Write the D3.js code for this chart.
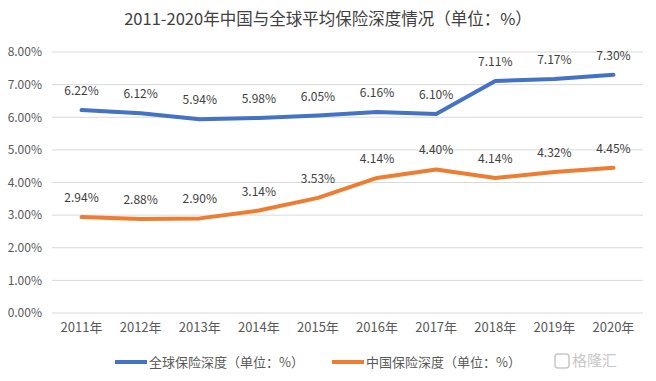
<!DOCTYPE html>
<html>
<head>
<meta charset="utf-8">
<script src="https://cdn.jsdelivr.net/npm/d3@7"></script>
<style>
  body { margin: 0; background: #fff; }
  text { font-family: "Noto Sans CJK SC", "Liberation Sans", sans-serif; }
</style>
</head>
<body>
<div id="chart"></div>
<script>
var years = ["2011年","2012年","2013年","2014年","2015年","2016年","2017年","2018年","2019年","2020年"];
var global_depth = [6.22, 6.12, 5.94, 5.98, 6.05, 6.16, 6.10, 7.11, 7.17, 7.30];
var china_depth = [2.94, 2.88, 2.90, 3.14, 3.53, 4.14, 4.40, 4.14, 4.32, 4.45];
var y_ticks = [0, 1, 2, 3, 4, 5, 6, 7, 8];
var series_names = ["全球保险深度（单位：%）", "中国保险深度（单位：%）"];

var svg_width = 656;
var svg_height = 381;
var margin = { top: 52, bottom: 68, left: 52, right: 13 };
var width = svg_width - margin.left - margin.right;
var height = svg_height - margin.top - margin.bottom;

var svg = d3.select("#chart")
    .append("svg")
    .attr("width", svg_width)
    .attr("height", svg_height);

svg.append("text")
    .attr("x", svg_width / 2)
    .attr("y", 25)
    .attr("text-anchor", "middle")
    .attr("font-size", 16.5)
    .attr("fill", "#404040")
    .text("2011-2020年中国与全球平均保险深度情况（单位：%）");

var chartGroup = svg.append("g")
    .attr("transform", `translate(${margin.left}, ${margin.top})`);

var x_scale = d3.scaleBand().domain(years).range([0, width]);
var y_scale = d3.scaleLinear().domain([0, 8]).range([height, 0]);

// gridlines
chartGroup.append("g")
    .selectAll("line")
    .data(y_ticks)
    .enter()
    .append("line")
    .attr("x1", 0)
    .attr("x2", width)
    .attr("y1", d => y_scale(d))
    .attr("y2", d => y_scale(d))
    .attr("stroke", "#d9d9d9")
    .attr("stroke-width", 1);

var left_axis = d3.axisLeft(y_scale)
    .tickValues(y_ticks)
    .tickFormat(d => d.toFixed(2) + "%")
    .tickSize(0)
    .tickPadding(10);
var yg = chartGroup.append("g").call(left_axis);
yg.select(".domain").remove();
yg.selectAll("text").attr("font-size", 12).attr("fill", "#595959");

var bottom_axis = d3.axisBottom(x_scale).tickSize(0).tickPadding(10);
var xg = chartGroup.append("g")
    .attr("transform", `translate(0,${height})`)
    .call(bottom_axis);
xg.select(".domain").remove();
xg.selectAll("text").attr("font-size", 13).attr("fill", "#595959");

var cx = d => x_scale(d) + x_scale.bandwidth() / 2;
var series = [
    { name: series_names[0], values: global_depth, color: "#4472C4" },
    { name: series_names[1], values: china_depth, color: "#ED7D31" }
];

var line = d3.line()
    .x((d, i) => cx(years[i]))
    .y(d => y_scale(d));

series.forEach(function (s) {
    chartGroup.append("path")
        .datum(s.values)
        .attr("d", line)
        .attr("fill", "none")
        .attr("stroke", s.color)
        .attr("stroke-width", 4)
        .attr("stroke-linecap", "round")
        .attr("stroke-linejoin", "round");

    chartGroup.selectAll(null)
        .data(s.values)
        .enter()
        .append("text")
        .attr("x", (d, i) => cx(years[i]))
        .attr("y", d => y_scale(d) - 15)
        .attr("text-anchor", "middle")
        .attr("font-size", 12)
        .attr("fill", "#404040")
        .text(d => d.toFixed(2) + "%");
});

// legend
var legend = svg.append("g").attr("transform", "translate(0, 362)");
var legend_x = [115, 332];
series.forEach(function (s, i) {
    legend.append("line")
        .attr("x1", legend_x[i])
        .attr("x2", legend_x[i] + 32)
        .attr("y1", 0)
        .attr("y2", 0)
        .attr("stroke", s.color)
        .attr("stroke-width", 4);
    legend.append("text")
        .attr("x", legend_x[i] + 34)
        .attr("y", 4.5)
        .attr("font-size", 13)
        .attr("fill", "#595959")
        .text(s.name);
});

// watermark
svg.append("rect")
    .attr("x", 555).attr("y", 354)
    .attr("width", 14).attr("height", 14)
    .attr("rx", 3)
    .attr("fill", "none")
    .attr("stroke", "#c8c8c8")
    .attr("stroke-width", 1.5);
svg.append("text")
    .attr("x", 572).attr("y", 366)
    .attr("font-size", 15)
    .attr("fill", "#c8c8c8")
    .text("格隆汇");
</script>
</body>
</html>
